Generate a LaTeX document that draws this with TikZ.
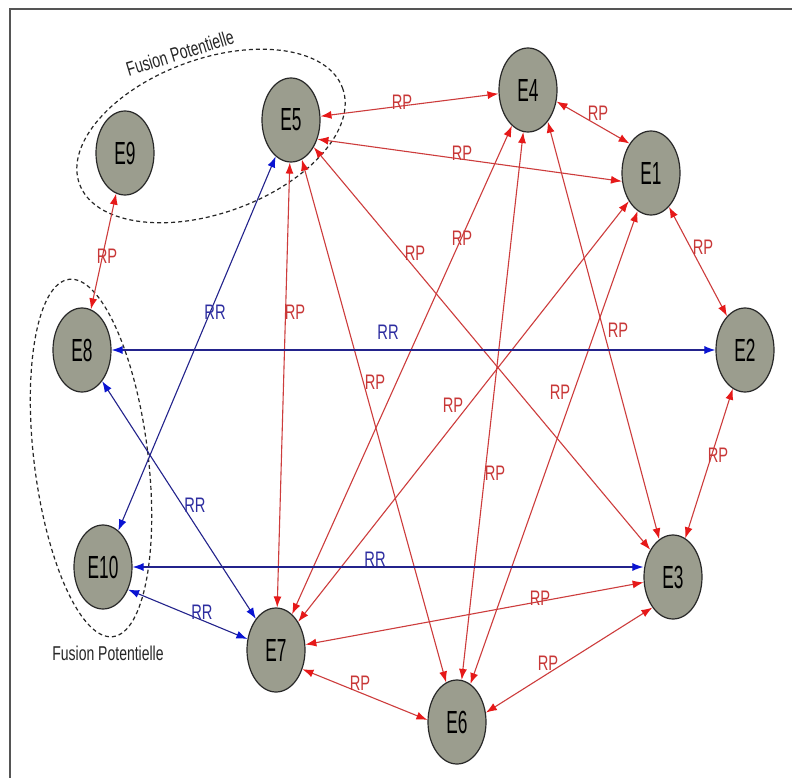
\documentclass[tikz,border=0pt]{standalone}
\usepackage{fontspec}
\usetikzlibrary{arrows.meta,shapes.geometric}
\newfontfamily\nodefnt[FakeStretch=0.54]{Liberation Sans}
\newfontfamily\lblfnt[FakeStretch=0.7]{Liberation Sans}
\definecolor{nodefill}{RGB}{155,157,142}
\definecolor{nodeline}{RGB}{40,40,40}
\definecolor{rpline}{RGB}{205,60,60}
\definecolor{rptip}{RGB}{230,25,25}
\definecolor{rrline}{RGB}{35,35,140}
\definecolor{rrtip}{RGB}{10,20,210}
\definecolor{rptext}{RGB}{200,55,55}
\definecolor{rrtext}{RGB}{45,45,160}
\definecolor{framecol}{RGB}{85,85,85}
\begin{document}
\begin{tikzpicture}[x=1bp,y=-1bp,
  state/.style={ellipse, draw=nodeline, line width=1.2bp, fill=nodefill,
    minimum width=58bp, minimum height=84bp, inner sep=0pt,
    font=\nodefnt\fontsize{32bp}{32bp}\selectfont},
  rp/.style={draw=rpline, line width=1.1bp,
    {Latex[length=11bp,width=8bp,color=rptip]}-{Latex[length=11bp,width=8bp,color=rptip]}},
  rr/.style={draw=rrline, line width=1.1bp,
    {Latex[length=11bp,width=8bp,color=rrtip]}-{Latex[length=11bp,width=8bp,color=rrtip]}},
  rplbl/.style={text=rptext, inner sep=0pt, font=\lblfnt\fontsize{21bp}{21bp}\selectfont},
  rrlbl/.style={text=rrtext, inner sep=0pt, font=\lblfnt\fontsize{21bp}{21bp}\selectfont},
  fuslbl/.style={text=black!85, inner sep=0pt, font=\lblfnt\fontsize{20bp}{20bp}\selectfont},
  fusion/.style={draw=black!85, line width=1.2bp, dash pattern=on 4bp off 3bp}
]
\useasboundingbox (0,0) rectangle (792,778);
\fill[white] (0,0) rectangle (792,778);
% frame
\draw[framecol, line width=1.8bp] (10,778) -- (10,9) -- (792,9);

% potential fusion groups
\begin{scope}[shift={(211,136)}, rotate=20]
  \draw[fusion] (0,0) ellipse [x radius=140, y radius=77];
\end{scope}
\begin{scope}[shift={(91,458)}, rotate=7]
  \draw[fusion] (0,0) ellipse [x radius=57, y radius=180];
\end{scope}
\node[fuslbl, rotate=17] (fusA) at (180,53) {Fusion Potentielle};
\node[fuslbl] (fusB) at (108,653) {Fusion Potentielle};

% states
\node[state] (E9) at (125,153) {E9};
\node[state] (E5) at (291,120) {E5};
\node[state] (E4) at (528,90) {E4};
\node[state] (E1) at (651,173) {E1};
\node[state] (E2) at (745,350) {E2};
\node[state] (E8) at (82,350) {E8};
\node[state] (E10) at (103,567) {E10};
\node[state] (E3) at (673,577) {E3};
\node[state] (E7) at (276,650) {E7};
\node[state] (E6) at (457,722) {E6};

% RP connectors
\draw[rp] (E5) -- (E4);
\draw[rp] (E5.-36) -- (E1.196);
\draw[rp] (E4.-22) -- (E1.126);
\draw[rp] (E1) -- (E2);
\draw[rp] (E2) -- (E3);
\draw[rp] (E3.236) -- (E6.18);
\draw[rp] (E7.-36) -- (E6.176);
\draw[rp] (E7) -- (E3);
\draw[rp] (E9) -- (E8);
\draw[rp] (E5) -- (E7);
\draw[rp] (E5) -- (E6);
\draw[rp] (E5) -- (E3);
\draw[rp] (E7) -- (E4);
\draw[rp] (E7) -- (E1);
\draw[rp] (E4) -- (E6);
\draw[rp] (E1) -- (E6);
\draw[rp] (E4.-58) -- (E3.110);

% RR connectors
\draw[rr] (E8) -- (E2);
\draw[rr] (E5) -- (E10);
\draw[rr] (E8) -- (E7);
\draw[rr] (E10) -- (E10 -| E3.west);
\draw[rr] (E10.-42) -- (E7.159);

% labels
\node[rplbl] (l54) at (402,102) {RP};
\node[rplbl] (l41) at (598,113) {RP};
\node[rplbl] (l51) at (462,153) {RP};
\node[rplbl] (l12) at (703,247) {RP};
\node[rplbl] (l74) at (462,238) {RP};
\node[rplbl] (l53) at (415,253) {RP};
\node[rrlbl] (l510) at (215,312) {RR};
\node[rplbl] (l57) at (295,312) {RP};
\node[rrlbl] (l82) at (388,332) {RR};
\node[rplbl] (l56) at (375,382) {RP};
\node[rrlbl] (l87) at (195,505) {RR};
\node[rplbl] (l43) at (618,330) {RP};
\node[rplbl] (l71) at (453,405) {RP};
\node[rplbl] (l16) at (560,392) {RP};
\node[rplbl] (l46) at (495,473) {RP};
\node[rplbl] (l23) at (718,455) {RP};
\node[rrlbl] (l103) at (375,559) {RR};
\node[rrlbl] (l107) at (202,612) {RR};
\node[rplbl] (l76) at (360,683) {RP};
\node[rplbl] (l73) at (540,598) {RP};
\node[rplbl] (l63) at (548,663) {RP};
\node[rplbl] (l98) at (107,256) {RP};
\end{tikzpicture}
\end{document}
